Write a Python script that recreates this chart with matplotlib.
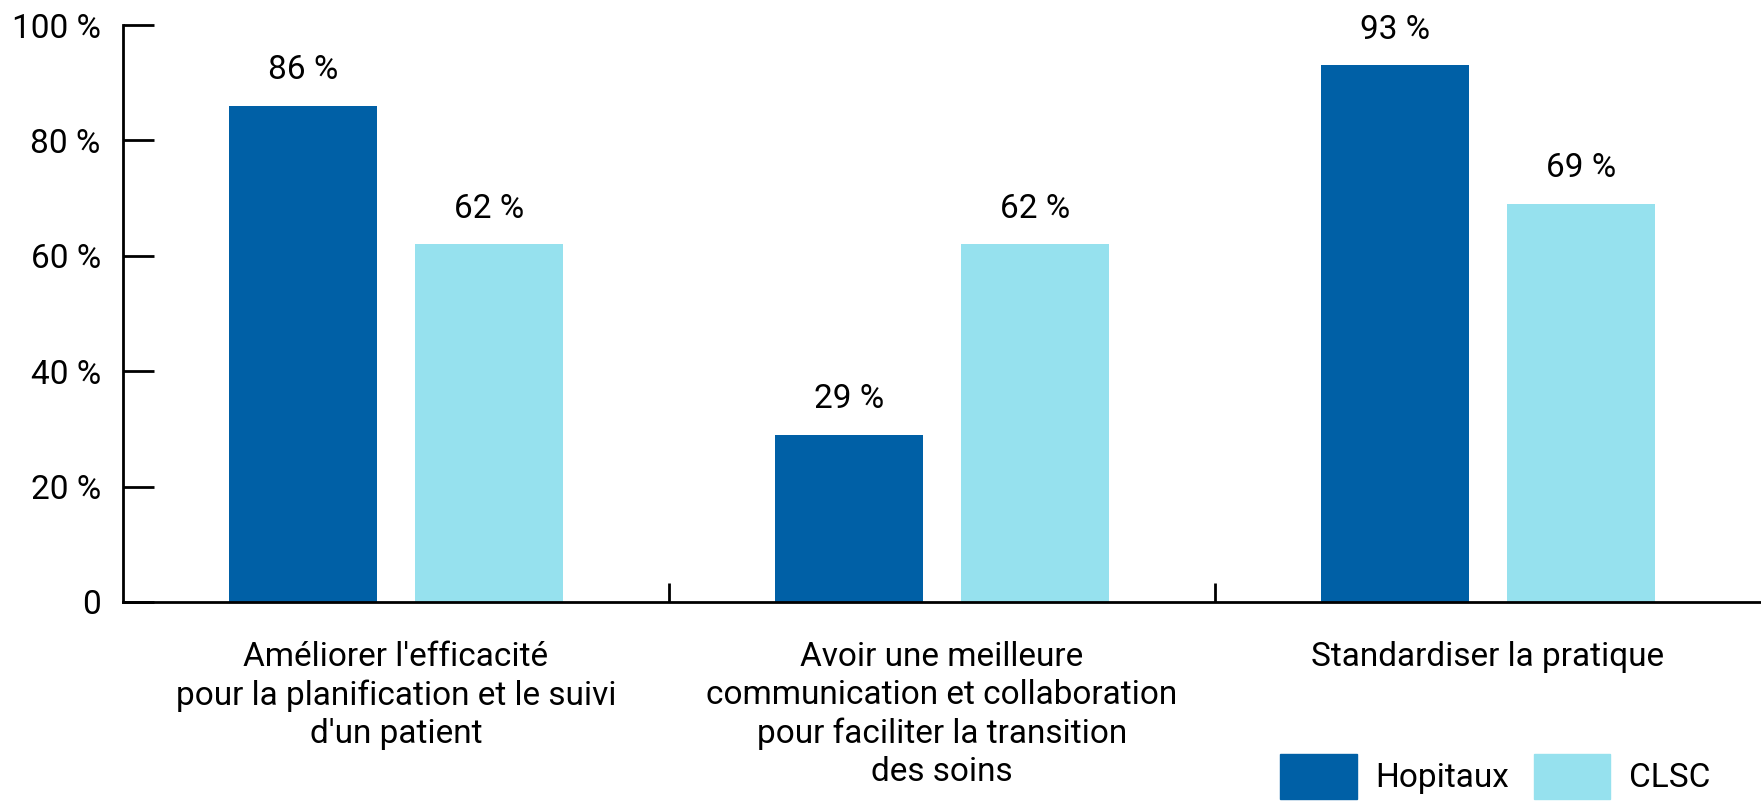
import numpy as np
import matplotlib.pyplot as plt
from matplotlib.patches import Patch

plt.rcParams['font.family'] = ['Roboto', 'DejaVu Sans']

# Data
categories = [
    "Améliorer l'efficacité\npour la planification et le suivi\nd'un patient",
    "Avoir une meilleure\ncommunication et collaboration\npour faciliter la transition\ndes soins",
    "Standardiser la pratique",
]
series_names = ["Hopitaux", "CLSC"]
hopitaux = [86, 29, 93]
clsc = [62, 62, 69]
y_ticks = [0, 20, 40, 60, 80, 100]
y_tick_labels = ["0", "20 %", "40 %", "60 %", "80 %", "100 %"]

colors = ["#0060a6", "#96e1ee"]
fs = 24

fig = plt.figure(figsize=(17.61, 8.01), dpi=100)
ax = fig.add_axes([123 / 1761, 1 - 602 / 801, 1 - 123 / 1761, 577 / 801])

x = np.arange(len(categories))
offset = 0.17
width = 0.27
for vals, off, col in [(hopitaux, -offset, colors[0]), (clsc, offset, colors[1])]:
    bars = ax.bar(x + off, vals, width=width, color=col, zorder=2)
    for b, v in zip(bars, vals):
        ax.annotate(f"{v} %", (b.get_x() + b.get_width() / 2, v),
                    xytext=(0, 14), textcoords="offset points",
                    ha="center", va="bottom", fontsize=fs)

ax.set_xlim(-0.5, len(categories) - 0.5)
ax.set_ylim(0, 100)

# y axis: ticks pointing inward
ax.set_yticks(y_ticks)
ax.set_yticklabels(y_tick_labels, fontsize=fs)
ax.tick_params(axis="y", direction="in", length=22, width=2, pad=16)

# x axis: small separators between groups, labels centered on groups
ax.set_xticks(np.arange(1, len(categories)) - 0.5)
ax.set_xticklabels([])
ax.set_xticks(x, minor=True)
ax.set_xticklabels(categories, minor=True, fontsize=fs, linespacing=1.25)
ax.tick_params(axis="x", which="major", direction="in", length=14, width=2)
ax.tick_params(axis="x", which="minor", length=0, pad=28)

for side in ["top", "right"]:
    ax.spines[side].set_visible(False)
for side in ["left", "bottom"]:
    ax.spines[side].set_linewidth(2)

handles = [Patch(color=c, label=n) for c, n in zip(colors, series_names)]
fig.legend(handles=handles, loc="center left", bbox_to_anchor=(1280 / 1761, 1 - 776 / 801),
           ncol=2, frameon=False, fontsize=fs, borderpad=0, borderaxespad=0,
           handlelength=2.3, handleheight=1.7, handletextpad=0.55, columnspacing=0.75)

fig.savefig("out.png", dpi=100)
